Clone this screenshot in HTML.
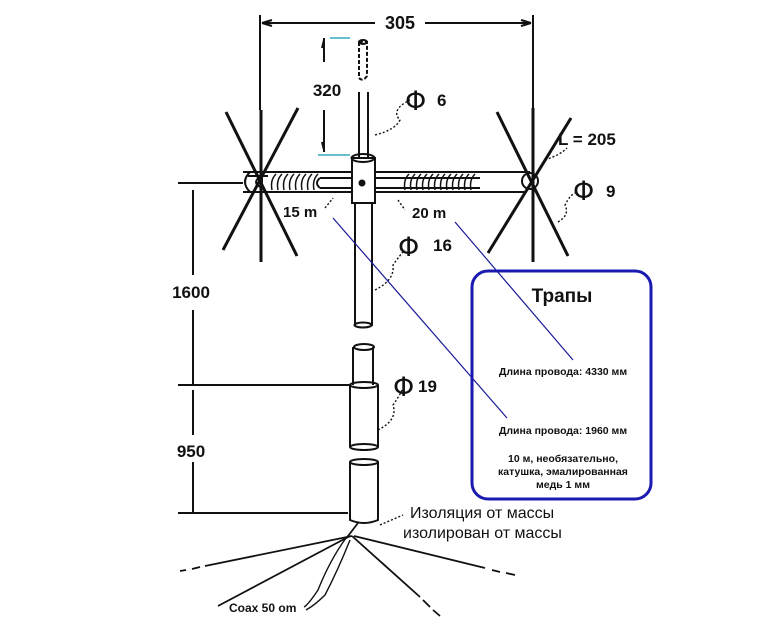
<!DOCTYPE html>
<html><head><meta charset="utf-8"><style>
html,body{margin:0;padding:0;background:#fff}
svg{display:block}
text{font-family:"Liberation Sans","DejaVu Sans",sans-serif;fill:#111}
.phi{font-size:27px;font-family:"DejaVu Sans",sans-serif}
</style></head><body>
<svg width="775" height="634" viewBox="0 0 775 634" xmlns="http://www.w3.org/2000/svg">
<g stroke="#111" fill="none" stroke-width="2">
<!-- top dim -->
<line x1="260" y1="15" x2="260" y2="110"/>
<line x1="533" y1="15" x2="533" y2="110"/>
<line x1="262" y1="23" x2="375" y2="23"/>
<line x1="425" y1="23" x2="531" y2="23"/>
<path d="M262 23 l10 -3 M262 23 l10 3 M531 23 l-10 -3 M531 23 l-10 3"/>
<!-- 320 dim -->
<line x1="324" y1="38" x2="324" y2="62"/>
<line x1="324" y1="110" x2="324" y2="152"/>
<path d="M324 40 l-2 8 M324 150 l-2 -8"/>
<line x1="330" y1="38" x2="350" y2="38" stroke="#3ab" stroke-width="1.5"/>
<line x1="318" y1="155" x2="350" y2="155" stroke="#3ab" stroke-width="1.5"/>
<!-- top whip -->
<path d="M359 42 L359 78 Q363 82 367 76 L367 42 Z" stroke-dasharray="4 2"/>
<ellipse cx="363" cy="42" rx="4" ry="2"/>
<path d="M359 92 L359 158 M368 92 L368 158"/>
<!-- hub -->
<path d="M352 158 L375 158 L375 203 L352 203 Z"/>
<ellipse cx="363" cy="158" rx="11.5" ry="4"/>
<circle cx="362" cy="183" r="2.5" fill="#111"/>
<!-- boom -->
<path d="M243 172 L352 172 M243 192 L352 192 M375 172 L530 172 M375 192 L525 192"/>
<path d="M250 172 Q240 182 250 192" />
<path d="M262 176 Q250 182 262 188 L262 176 M248 176 L268 176"/>
<path d="M320 178 L352 178 M320 188 L352 188 M320 178 Q314 183 320 188"/>
<path d="M375 178 L480 178 M375 188 L480 188"/>
<g stroke-width="1.5">
<path d="M272 190 Q270 180 276 174 M278 190 Q276 180 282 174 M284 190 Q282 180 288 174 M290 190 Q288 180 294 174 M296 190 Q294 180 300 174 M302 190 Q300 180 306 174 M308 190 Q306 180 312 174 M314 190 Q312 180 318 174"/>
<path d="M405 190 Q403 180 409 174 M411 190 Q409 180 415 174 M417 190 Q415 180 421 174 M423 190 Q421 180 427 174 M429 190 Q427 180 433 174 M435 190 Q433 180 439 174 M441 190 Q439 180 445 174 M447 190 Q445 180 451 174 M453 190 Q451 180 457 174 M459 190 Q457 180 463 174 M465 190 Q463 180 469 174 M471 190 Q469 180 475 174"/>
</g>
<circle cx="530" cy="181" r="8"/>
<!-- stars -->
<g stroke-width="3">
<line x1="261" y1="110" x2="261" y2="262"/>
<line x1="226" y1="112" x2="297" y2="256"/>
<line x1="298" y1="108" x2="223" y2="250"/>
<line x1="533" y1="108" x2="533" y2="262"/>
<line x1="497" y1="112" x2="568" y2="256"/>
<line x1="571" y1="118" x2="488" y2="253"/>
</g>
<!-- mast -->
<path d="M355 203 L355 326 M372 203 L372 326"/>
<ellipse cx="363" cy="325" rx="8.5" ry="2.5"/>
<path d="M353 347 L353 385 M373 347 L373 385"/>
<ellipse cx="364" cy="347" rx="10" ry="3"/>
<path d="M350 385 L350 447 M378 385 L378 447"/>
<ellipse cx="364" cy="385" rx="14" ry="3"/>
<ellipse cx="364" cy="447" rx="14" ry="3"/>
<path d="M350 462 L350 520 Q364 526 378 520 L378 462"/>
<ellipse cx="364" cy="462" rx="14" ry="3"/>
<!-- left dims -->
<line x1="178" y1="183" x2="243" y2="183"/>
<line x1="193" y1="190" x2="193" y2="275"/>
<line x1="193" y1="310" x2="193" y2="385"/>
<line x1="178" y1="385" x2="350" y2="385"/>
<line x1="193" y1="390" x2="193" y2="435"/>
<line x1="193" y1="462" x2="193" y2="512"/>
<line x1="178" y1="513" x2="348" y2="513"/>
<!-- leader squiggles -->
<g stroke-dasharray="2 2" stroke-width="1.4">
<path d="M375 135 Q395 130 400 120 Q390 110 410 100"/>
<path d="M375 290 Q395 280 393 265 Q400 255 405 250"/>
<path d="M378 430 Q398 420 393 405 Q400 395 402 390"/>
<path d="M545 160 Q560 155 567 148"/>
<path d="M558 222 Q570 215 565 205 Q570 195 575 193"/>
<path d="M325 208 L333 198 M398 200 L405 210"/>
<path d="M380 525 L403 515"/>
</g>
<!-- bottom radials -->
<g stroke-width="1.8">
<path d="M352 536 L205 566"/><path d="M200 567 L192 569 M186 570 L180 571" />
<path d="M350 536 L218 606"/>
<path d="M354 536 L485 568"/><path d="M492 570 L500 572 M506 573 L515 575"/>
<path d="M352 536 L420 597"/><path d="M423 600 L430 607 M433 610 L440 616"/>
<path d="M358 523 L348 536 L344 540"/>
<path d="M346 538 Q330 560 318 590 Q308 605 304 607 M350 540 Q338 570 325 595 Q315 605 306 610" stroke-width="1.4"/>
</g>
</g>
<!-- blue lines -->
<g stroke="#1a1a9a" stroke-width="1.2">
<line x1="333" y1="218" x2="507" y2="418"/>
<line x1="455" y1="222" x2="573" y2="360"/>
</g>
<rect x="472" y="271" width="179" height="228" rx="16" fill="none" stroke="#1a1ab0" stroke-width="3"/>
<!-- labels -->
<text x="400" y="29" font-size="18" font-weight="bold" text-anchor="middle">305</text>
<text x="327" y="96" font-size="17" font-weight="bold" text-anchor="middle">320</text>
<text x="405" y="110" class="phi">Φ</text><text x="437" y="106" font-size="17" font-weight="bold">6</text>
<text x="558" y="145" font-size="17" font-weight="bold">L = 205</text>
<text x="573" y="200" class="phi">Φ</text><text x="606" y="197" font-size="17" font-weight="bold">9</text>
<text x="283" y="217" font-size="15" font-weight="bold">15 m</text>
<text x="412" y="218" font-size="15" font-weight="bold">20 m</text>
<text x="398" y="256" class="phi">Φ</text><text x="433" y="251" font-size="17" font-weight="bold">16</text>
<text x="393" y="396" class="phi">Φ</text><text x="418" y="392" font-size="17" font-weight="bold">19</text>
<text x="191" y="298" font-size="17" font-weight="bold" text-anchor="middle">1600</text>
<text x="191" y="457" font-size="17" font-weight="bold" text-anchor="middle">950</text>
<text x="562" y="302" font-size="19" font-weight="bold" text-anchor="middle">Трапы</text>
<g font-size="10.5" font-weight="bold" text-anchor="middle">
<text x="563" y="375">Длина провода: 4330 мм</text>
<text x="563" y="434">Длина провода: 1960 мм</text>
<text x="563" y="462">10 м, необязательно,</text>
<text x="563" y="475">катушка, эмалированная</text>
<text x="563" y="488">медь 1 мм</text>
</g>
<text x="410" y="518" font-size="16">Изоляция от массы</text>
<text x="403" y="538" font-size="16">изолирован от массы</text>
<text x="229" y="612" font-size="12" font-weight="bold">Coax 50 om</text>
</svg>
</body></html>
